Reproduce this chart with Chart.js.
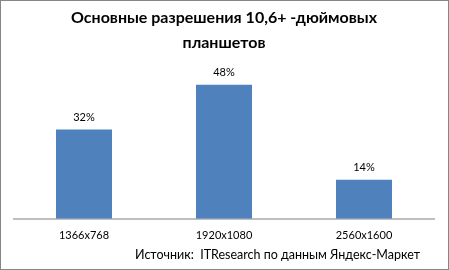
<!DOCTYPE html>
<html>
<head>
<meta charset="utf-8">
<script src="https://cdn.jsdelivr.net/npm/chart.js@4.4.0/dist/chart.umd.min.js"></script>
<style>
    body { margin: 0; background: #fff; }
    #wrap { width: 449px; height: 270px; }
</style>
</head>
<body>
<div id="wrap"><canvas id="myChart" width="449" height="270"></canvas></div>
<script>
var categories = ['1366x768', '1920x1080', '2560x1600'];
var shares = [32, 48, 14];
var titleLines = ['Основные разрешения 10,6+ -дюймовых', 'планшетов'];
var sourceText = 'Источник:  ITResearch по данным Яндекс-Маркет';

var extrasPlugin = {
    id: 'extras',
    beforeDraw: function (chart) {
        var ctx = chart.ctx;
        ctx.save();
        ctx.fillStyle = '#ffffff';
        ctx.fillRect(0, 0, chart.width, chart.height);
        ctx.restore();
    },
    afterDraw: function (chart) {
        var ctx = chart.ctx;
        ctx.save();
        // value labels above bars
        ctx.font = '11px Lato, sans-serif';
        ctx.fillStyle = '#000';
        ctx.textAlign = 'center';
        ctx.textBaseline = 'middle';
        var meta = chart.getDatasetMeta(0);
        meta.data.forEach(function (bar, i) {
            ctx.fillText(shares[i] + '%', bar.x, bar.y - 12);
        });
        // source note
        ctx.font = '12.5px Lato, sans-serif';
        ctx.textAlign = 'right';
        ctx.fillText(sourceText, 420, 255);
        // outer border
        ctx.strokeStyle = '#868686';
        ctx.lineWidth = 1;
        ctx.strokeRect(0.5, 0.5, chart.width - 1, chart.height - 1);
        ctx.restore();
    }
};

var ctx = document.getElementById('myChart').getContext('2d');
var chart = new Chart(ctx, {
    type: 'bar',
    data: {
        labels: categories,
        datasets: [{
            data: shares,
            backgroundColor: '#4f81bd',
            categoryPercentage: 1.0,
            barPercentage: 0.4
        }]
    },
    options: {
        responsive: false,
        animation: false,
        layout: {
            padding: { left: 14, right: 15, top: 0, bottom: 18 }
        },
        plugins: {
            legend: { display: false },
            tooltip: { enabled: false },
            title: {
                display: true,
                text: titleLines,
                color: '#000',
                font: { family: 'Lato, sans-serif', size: 16, weight: 'bold', lineHeight: 1.56 },
                padding: { top: 5, bottom: 0 }
            }
        },
        scales: {
            x: {
                grid: { display: false, drawTicks: false },
                border: { display: true, color: '#bfbfbf', width: 2 },
                ticks: {
                    color: '#000',
                    padding: 10,
                    font: { family: 'Lato, sans-serif', size: 11 }
                }
            },
            y: {
                display: false,
                min: 0,
                max: 58.7
            }
        }
    },
    plugins: [extrasPlugin]
});
</script>
</body>
</html>
